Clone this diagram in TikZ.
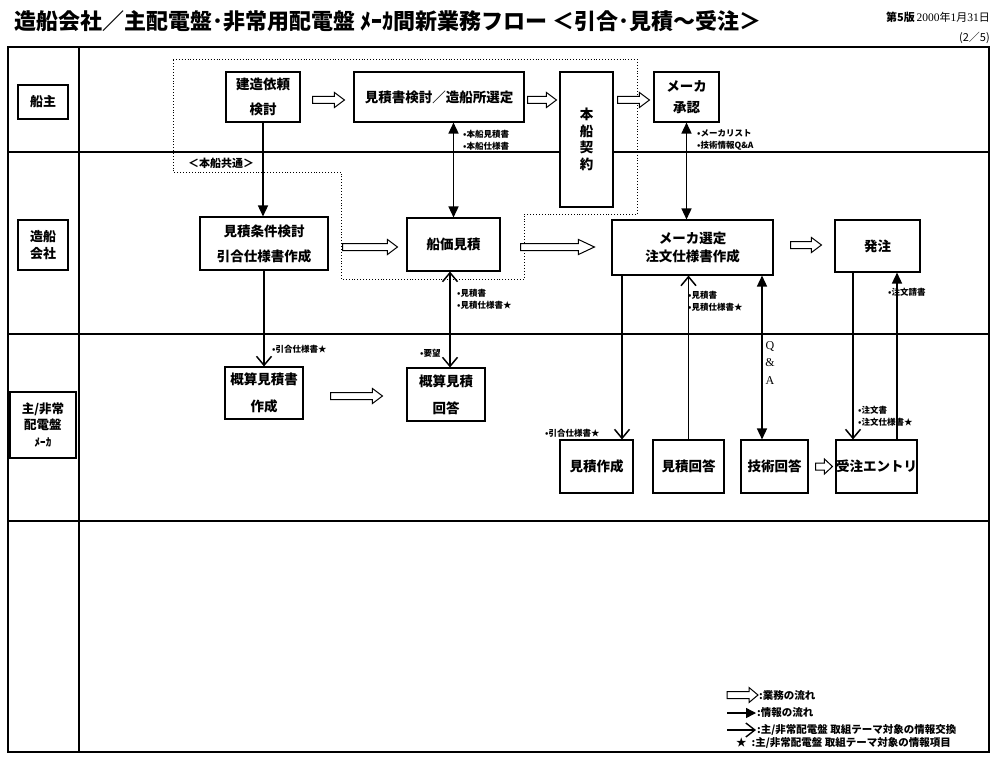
\documentclass[tikz,border=0pt]{standalone}
\usepackage{fontspec}
\setmainfont{Liberation Serif}
\newfontfamily\jp{Noto Sans CJK JP}
\usetikzlibrary{arrows.meta,calc}
\tikzset{
  box/.style={draw, line width=1.1pt, fill=white, align=center, inner sep=0pt,
    font=\jp\bfseries\fontsize{13.5}{25}\selectfont},
  lane/.style={draw, line width=1.1pt, align=center, inner sep=0pt,
    font=\jp\bfseries\fontsize{13}{17}\selectfont},
  frame/.style={line width=1.3pt},
  lbl/.style={font=\jp\bfseries\fontsize{8.5}{12}\selectfont, anchor=west, inner sep=0pt, align=left},
  info/.style={line width=1.5pt, -{Triangle[length=11pt,width=10pt]}},
  infoboth/.style={line width=1.5pt, {Triangle[length=11pt,width=10pt]}-{Triangle[length=11pt,width=10pt]}},
  xch/.style={line width=1.5pt, -{Straight Barb[length=9pt,width=15pt,line width=1.5pt]}},
  xchboth/.style={line width=1.5pt, {Straight Barb[length=9pt,width=15pt,line width=1.5pt]}-{Straight Barb[length=9pt,width=15pt,line width=1.5pt]}},
  barrow/.style={draw, fill=white, line width=1pt, line join=miter, to path={
     let \p1=(\tikztostart), \p2=(\tikztotarget) in
     (\x1,\y1+3.5pt) -- (\x2-#1,\y1+3.5pt) -- (\x2-#1,\y1+7.5pt) -- (\x2,\y1)
     -- (\x2-#1,\y1-7.5pt) -- (\x2-#1,\y1-3.5pt) -- (\x1,\y1-3.5pt) -- cycle}},
  barrow/.default=10pt
}
\begin{document}
\begin{tikzpicture}[x=1pt,y=-1pt]
\useasboundingbox (0,0) rectangle (1000,757);
\fill[white] (0,0) rectangle (1000,757);

% title
\node[anchor=west, inner sep=0pt, font=\jp\bfseries\fontsize{22}{24}\selectfont] (title) at (14,21)
  {造船会社／主配電盤･非常用配電盤 ﾒｰｶ間新業務フロー ＜引合･見積～受注＞};
\node[anchor=east, inner sep=0pt] (date) at (990,17)
  {{\jp\bfseries\fontsize{11}{12}\selectfont 第5版}\,{\fontsize{11.5}{12}\selectfont 2000}{\jp\fontsize{11}{12}\selectfont 年}{\fontsize{11.5}{12}\selectfont 1}{\jp\fontsize{11}{12}\selectfont 月}{\fontsize{11.5}{12}\selectfont 31}{\jp\fontsize{11}{12}\selectfont 日}};
\node[anchor=east, inner sep=0pt, font=\jp\fontsize{11}{12}\selectfont] (page) at (990,38) {(2／5)};

% frame and lanes
\draw[frame] (8,47) rectangle (989,752);
\draw[frame] (79,47) -- (79,752);
\draw[frame] (8,152) -- (989,152);
\draw[frame] (8,334) -- (989,334);
\draw[frame] (8,521) -- (989,521);

\node[lane, minimum width=50, minimum height=34] (l1) at (43,102) {船主};
\node[lane, minimum width=50, minimum height=50] (l2) at (43,245) {造船\\会社};
\node[lane, minimum width=66, minimum height=66, font=\jp\bfseries\fontsize{12.5}{16.5}\selectfont] (l3) at (43,425) {主/非常\\配電盤\\{\fontsize{11}{12}\selectfont ﾒｰｶ}};

% dotted common area
\draw[dotted, line width=0.9pt] (173,59) -- (637,59) -- (637,214) -- (524,214) -- (524,279)
  -- (341,279) -- (341,172) -- (173,172) -- cycle;
\node[font=\jp\bfseries\fontsize{11}{12}\selectfont, inner sep=0pt] (common) at (221,163) {＜本船共通＞};

% boxes
\node[box, minimum width=74, minimum height=50] (kenzo) at (263,97) {建造依頼\\検討};
\node[box, minimum width=170, minimum height=50] (mkento) at (439,97) {見積書検討／造船所選定};
\node[box, minimum width=53, minimum height=135, font=\jp\bfseries\fontsize{13.5}{16.5}\selectfont] (keiyaku) at (586.5,139.5) {本\\船\\契\\約};
\node[box, minimum width=65, minimum height=50, font=\jp\bfseries\fontsize{13.5}{21}\selectfont] (shonin) at (686.5,97) {メーカ\\承認};
\node[box, minimum width=128, minimum height=53] (joken) at (264,243.5) {見積条件検討\\引合仕様書作成};
\node[box, minimum width=93, minimum height=53] (senka) at (453.5,244.5) {船価見積};
\node[box, minimum width=161, minimum height=55, font=\jp\bfseries\fontsize{13.5}{18}\selectfont] (sentei) at (692.5,247.5) {メーカ選定\\注文仕様書作成};
\node[box, minimum width=85, minimum height=52] (hatchu) at (877.5,246) {発注};
\node[box, minimum width=78, minimum height=52, font=\jp\bfseries\fontsize{13.5}{27}\selectfont] (gsaku) at (264,393) {概算見積書\\作成};
\node[box, minimum width=78, minimum height=53, font=\jp\bfseries\fontsize{13.5}{27}\selectfont] (gkaito) at (446,394.5) {概算見積\\回答};
\node[box, minimum width=73, minimum height=53] (msaku) at (596.5,466.5) {見積作成};
\node[box, minimum width=71, minimum height=53] (mkaito) at (688.5,466.5) {見積回答};
\node[box, minimum width=67, minimum height=53] (gijutsu) at (774.5,466.5) {技術回答};
\node[box, minimum width=81, minimum height=53] (juchu) at (876.5,466.5) {受注エントリ};

% helper coordinates
\coordinate (c450) at (450,0);
\coordinate (c622) at (622,0);
\coordinate (c762) at (762,0);
\coordinate (c853) at (853,0);
\coordinate (c897) at (897,0);
\coordinate (k1) at (keiyaku.east |- shonin.west);

% block arrows (business flow)
\path[barrow] ([xshift=12pt,yshift=-3pt]kenzo.east) to ([xshift=-9pt,yshift=-3pt]mkento.west);
\path[barrow] ([xshift=3pt,yshift=-3pt]mkento.east) to ([xshift=-3pt,yshift=-3pt]mkento.east -| keiyaku.west);
\path[barrow] ([xshift=4pt,yshift=-3pt]k1) to ([xshift=-4pt,yshift=-3pt]shonin.west);
\path[barrow] ([xshift=14pt,yshift=-3.5pt]joken.east) to ([xshift=-9pt,yshift=-3.5pt]senka.west);
\path[barrow=16pt] ([xshift=20pt,yshift=-2.5pt]senka.east) to ([xshift=-17pt,yshift=-2.5pt]sentei.west);
\path[barrow] ([xshift=17pt,yshift=2.5pt]sentei.east) to ([xshift=-13pt,yshift=2.5pt]hatchu.west);
\path[barrow] ([xshift=27pt,yshift=-3pt]gsaku.east) to ([xshift=-24pt,yshift=-3pt]gkaito.west);
\path[barrow=8pt] ([xshift=7pt]gijutsu.east) to ([xshift=-3pt]juchu.west);

% information arrows
\draw[info] (kenzo.south) -- (kenzo.south |- joken.north);
\draw[infoboth] (senka.north |- mkento.south) -- (senka.north);
\draw[infoboth] (shonin.south) -- (shonin.south |- sentei.north);
\draw[xch] (joken.south) -- (joken.south |- gsaku.north);
\draw[xchboth] (senka.south -| c450) -- (gkaito.north -| c450);
\draw[xch] (sentei.south -| c622) -- (msaku.north -| c622);
\draw[xch] (mkaito.north) -- (mkaito.north |- sentei.south);
\draw[infoboth] (sentei.south -| c762) -- (gijutsu.north -| c762);
\draw[xch] (hatchu.south -| c853) -- (juchu.north -| c853);
\draw[info] (juchu.north -| c897) -- (hatchu.south -| c897);

% labels
\node[lbl] (t1) at (463,140) {•本船見積書\\•本船仕様書};
\node[lbl] (t2) at (697,140) {•メーカリスト\\•技術情報Q\&A};
\node[lbl] (t3) at (457,299) {•見積書\\•見積仕様書★};
\node[lbl] (t4) at (420,353) {•要望};
\node[lbl] (t5) at (272,349) {•引合仕様書★};
\node[lbl] (t6) at (688,301) {•見積書\\•見積仕様書★};
\node[lbl] (t7) at (888,292) {•注文請書};
\node[lbl] (t8) at (858,416) {•注文書\\•注文仕様書★};
\node[lbl] (t9) at (545,433) {•引合仕様書★};
\node[font=\fontsize{12}{17.5}\selectfont, align=center, inner sep=0pt] (qa) at (770,363) {Q\\\&\\A};

% legend
\coordinate (la1) at (727,695); \coordinate (la2) at (758,695);
\coordinate (lb1) at (727,713); \coordinate (lb2) at (756,713);
\coordinate (lc1) at (727,730); \coordinate (lc2) at (756,730);
\path[barrow=9pt] (la1) to (la2);
\draw[line width=1.4pt, -{Triangle[length=10pt,width=10pt]}] (lb1) -- (lb2);
\draw[line width=1.4pt, -{Straight Barb[length=9pt,width=14pt,line width=1.4pt]}] (lc1) -- (lc2);
\tikzset{leg/.style={font=\jp\bfseries\fontsize{10.5}{12}\selectfont, anchor=west, inner sep=0pt}}
\node[leg] (lg1) at (759,695) {:業務の流れ};
\node[leg] (lg2) at (757,713) {:情報の流れ};
\node[leg] (lg3) at (757,730) {:主/非常配電盤 取組テーマ対象の情報交換};
\node[leg] (lg4) at (736,743) {★\hspace{5pt}:主/非常配電盤 取組テーマ対象の情報項目};
\end{tikzpicture}
\end{document}
